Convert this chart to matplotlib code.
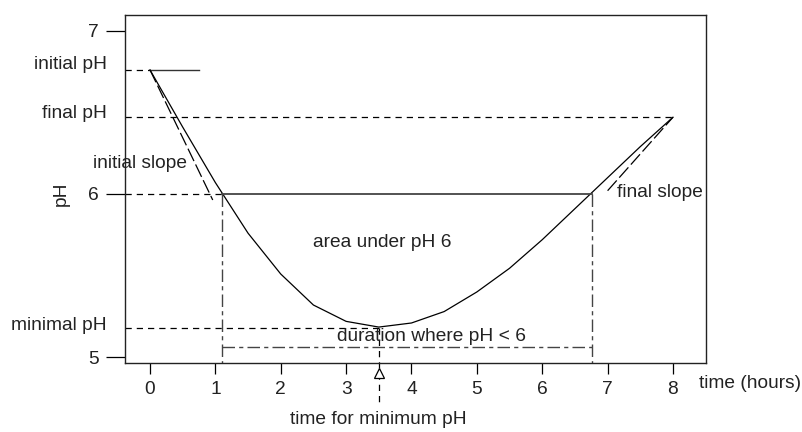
import matplotlib
matplotlib.use("Agg")
import matplotlib.pyplot as plt
import numpy as np

plt.rcParams['font.family'] = ['Liberation Sans', 'DejaVu Sans']
plt.rcParams['font.size'] = 13.8
plt.rcParams['text.color'] = '#222222'

# pH profile
time = [0, 0.5, 1.0, 1.5, 2.0, 2.5, 3.0, 3.5, 4.0, 4.5, 5.0, 5.5, 6.0, 6.5, 7.0, 7.5, 8.0]
ph = [6.76, 6.41, 6.07, 5.76, 5.51, 5.32, 5.22, 5.185, 5.21, 5.28, 5.40, 5.545, 5.72, 5.91, 6.10, 6.29, 6.47]

ph_initial = 6.76
ph_final = 6.47
ph_min = 5.18
t_min = 3.5
t_cross = [1.1, 6.76]      # where pH crosses 6
duration_y = 5.065
init_slope = -0.83
init_slope_len = 0.96
final_slope = 0.45
final_slope_len = 1.0

xticks = [0, 1, 2, 3, 4, 5, 6, 7, 8]
yticks = [5, 6, 7]

DASH = (0, (5, 4))
LONG = (0, (11, 3))
DDASH = (0, (9, 3, 3, 3))

fig = plt.figure(figsize=(8.02, 4.32), dpi=100)
ax = fig.add_axes([125/802, 1-363/432, (706-125)/802, (363-15)/432])
ax.set_xlim(-0.382, 8.505)
ax.set_ylim(4.965, 7.096)
x0 = ax.get_xlim()[0]

# curve
ax.plot(time, ph, color='black', lw=0.9)

# initial pH
ax.plot([x0, 0], [ph_initial, ph_initial], color='black', lw=0.9, ls=DASH)
ax.plot([0, 0.75], [ph_initial, ph_initial], color='#333333', lw=1.0)
# final pH
ax.plot([x0, 8], [ph_final, ph_final], color='black', lw=0.9, ls=DASH)
# minimal pH
ax.plot([x0, t_min], [ph_min, ph_min], color='black', lw=0.9, ls=DASH)
# pH 6
ax.plot([x0, t_cross[0]], [6, 6], color='black', lw=0.9, ls=DASH)
ax.plot(t_cross, [6, 6], color='#444444', lw=1.3)

# vertical lines at crossings
for tc in t_cross:
    ax.plot([tc, tc], [6, ax.get_ylim()[0]], color='#444444', lw=1.0, ls=DDASH)
# duration line
ax.plot(t_cross, [duration_y, duration_y], color='#444444', lw=1.0, ls=DDASH)

# slopes
xs = np.array([0, init_slope_len])
ax.plot(xs, ph_initial + init_slope * xs, color='black', lw=0.9, ls=LONG)
xs = np.array([8 - final_slope_len, 8])
ax.plot(xs, ph_final + final_slope * (xs - 8), color='black', lw=0.9, ls=LONG)

# time of minimum pH
ax.plot([t_min, t_min], [ph_min, 4.708], color='black', lw=0.9, ls=DASH, clip_on=False)
ax.plot([t_min], [4.905], marker='^', ms=7.5, mfc='white', mec='black', mew=0.9,
        clip_on=False, zorder=5)

# texts
ax.text(3.56, 5.70, 'area under pH 6', ha='center', va='center')
ax.text(4.31, 5.125, 'duration where pH < 6', ha='center', va='center')
ax.text(-0.145, 6.184, 'initial slope', ha='center', va='center')
ax.text(7.14, 6.012, 'final slope', ha='left', va='center')
ax.text(t_min, 4.616, 'time for minimum pH', ha='center', va='center', clip_on=False)
ax.text(8.40, 4.837, 'time (hours)', ha='left', va='center', clip_on=False)
ax.text(-1.36, 6.0, 'pH', ha='center', va='center', rotation=90, clip_on=False)

for y, lab in [(ph_initial + 0.035, 'initial pH'), (ph_final + 0.02, 'final pH'),
               (ph_min + 0.015, 'minimal pH')]:
    ax.text(-0.658, y, lab, ha='right', va='center', clip_on=False)

ax.set_xticks(xticks)
ax.set_yticks(yticks)
ax.tick_params(axis='x', direction='out', length=8, width=0.9, pad=5, labelcolor='#222222')
ax.tick_params(axis='y', direction='out', length=14, width=0.9, pad=5, labelcolor='#222222')
for s in ax.spines.values():
    s.set_linewidth(1.0)
    s.set_color('#222222')

fig.savefig('out.png', dpi=100)
